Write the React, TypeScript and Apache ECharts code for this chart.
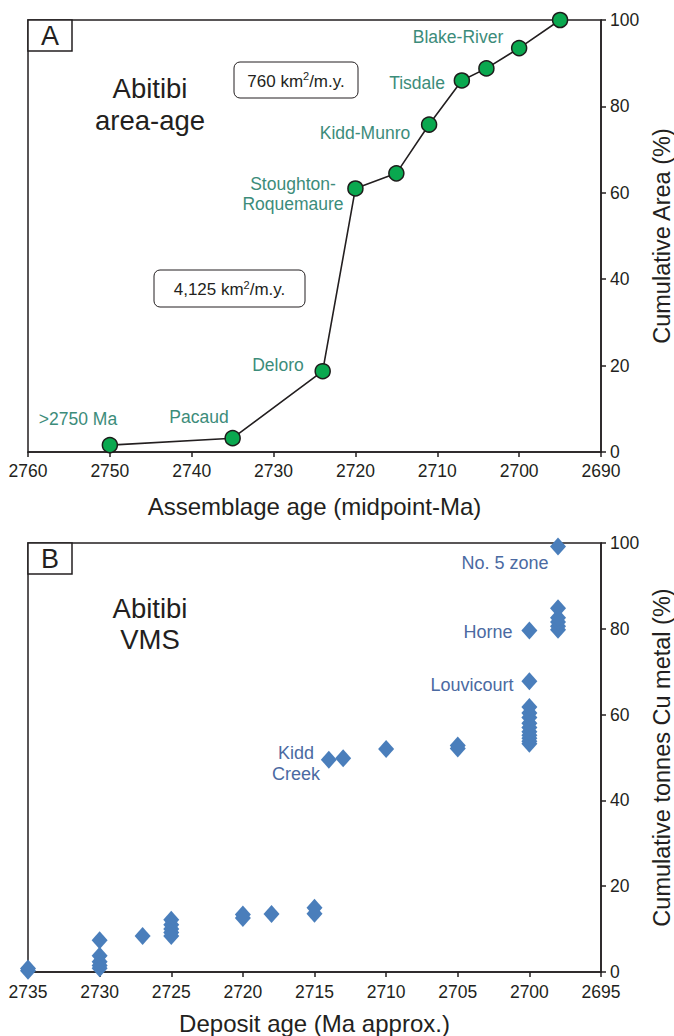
import React, { useEffect, useRef } from "react";
import * as echarts from "echarts";

// Panel A: assemblage midpoint ages and cumulative area
const agesA = [2750, 2735, 2724, 2720, 2715, 2711, 2707, 2704, 2700, 2695];
const areaA = [1.6, 3.2, 18.7, 61, 64.5, 75.8, 86, 88.8, 93.5, 100];
const xTicksA = [2760, 2750, 2740, 2730, 2720, 2710, 2700, 2690];

// Panel B: deposit ages and cumulative Cu tonnes
const ageB = [
  2735, 2735,
  2730, 2730, 2730, 2730, 2730,
  2727,
  2725, 2725, 2725, 2725, 2725,
  2720, 2720,
  2718,
  2715, 2715,
  2714, 2713,
  2710,
  2705, 2705,
  2700, 2700, 2700, 2700, 2700, 2700, 2700, 2700, 2700, 2700,
  2700, 2700,
  2698, 2698, 2698, 2698, 2698, 2698,
];
const cuB = [
  0.3, 0.8,
  7.4, 3.8, 2.4, 1.5, 0.9,
  8.4,
  12.2, 11, 10, 9.2, 8.4,
  13.4, 12.6,
  13.5,
  15, 13.6,
  49.5, 49.8,
  52,
  52.8, 52.1,
  53.2, 53.8, 54.5, 55.2, 56, 57, 58, 59.3, 60.4, 61.8,
  67.8, 79.6,
  79.8, 80.6, 81.6, 82.6, 84.8, 99.2,
];
const xTicksB = [2735, 2730, 2725, 2720, 2715, 2710, 2705, 2700, 2695];

const FONT = "'Liberation Sans', Arial, Helvetica, sans-serif";
const INK = "#231f20";
const GREEN_TXT = "#3c8c7a";
const BLUE_TXT = "#4b6aa2";

export default function App() {
  const ref = useRef<HTMLDivElement>(null);
  useEffect(() => {
    if (!ref.current) return;
    const chart = echarts.init(ref.current, undefined, { renderer: "svg" });
    const axisCommon = {
      axisLine: { show: true, onZero: false, lineStyle: { color: INK, width: 1.5 } },
      axisTick: { show: true, inside: false, length: 5, lineStyle: { color: INK, width: 1.5 } },
      splitLine: { show: false },
      axisLabel: { color: INK, fontSize: 17.5, fontFamily: FONT, formatter: (v: number) => String(v) },
      nameTextStyle: { color: INK, fontSize: 24, fontFamily: FONT },
    };
    const txt = (x: number, y: number, text: string, color: string, size = 17.5, align = "center") => ({
      type: "text",
      x,
      y,
      style: { text, fill: color, fontSize: size, fontFamily: FONT, align, verticalAlign: "middle", lineHeight: size + 3 },
      z: 100,
    });
    const rateBox = (x: number, y: number, w: number, h: number, num: string) => ({
      type: "group",
      x,
      y,
      z: 100,
      children: [
        { type: "rect", shape: { x: 0, y: 0, width: w, height: h, r: 6 }, style: { fill: "#fff", stroke: INK, lineWidth: 1 } },
        {
          type: "text",
          x: w / 2,
          y: h / 2 + 1,
          style: {
            text: `{a|${num} km}{s|2}{a|/m.y.}`,
            fontSize: 17,
            fontFamily: FONT,
            fill: INK,
            align: "center",
            verticalAlign: "middle",
            rich: {
              a: { fontSize: 17, fontFamily: FONT, fill: INK },
              s: { fontSize: 11, fontFamily: FONT, fill: INK, padding: [0, 0, 10, 0] },
            },
          },
        },
      ],
    });
    const letterBox = (x: number, y: number, letter: string) => ({
      type: "group",
      x,
      y,
      z: 100,
      children: [
        { type: "rect", shape: { x: 0, y: 0, width: 44, height: 31 }, style: { fill: "#fff", stroke: INK, lineWidth: 1.5 } },
        { type: "text", x: 22, y: 16, style: { text: letter, fontSize: 27, fontFamily: FONT, fill: INK, align: "center", verticalAlign: "middle" } },
      ],
    });

    chart.setOption({
      animation: false,
      grid: [
        { left: 28, top: 20, width: 573, height: 432, outerBoundsMode: "none", containLabel: false, show: true, borderColor: INK, borderWidth: 1.5, backgroundColor: "transparent" },
        { left: 28, top: 543, width: 573, height: 429, outerBoundsMode: "none", containLabel: false, show: true, borderColor: INK, borderWidth: 1.5, backgroundColor: "transparent" },
      ],
      xAxis: [
        {
          ...axisCommon,
          gridIndex: 0,
          type: "value",
          min: xTicksA[xTicksA.length - 1],
          max: xTicksA[0],
          interval: 10,
          inverse: true,
          name: "Assemblage age (midpoint-Ma)",
          nameLocation: "middle",
          nameGap: 42,
          axisLabel: { ...axisCommon.axisLabel, margin: 10 },
        },
        {
          ...axisCommon,
          gridIndex: 1,
          type: "value",
          min: xTicksB[xTicksB.length - 1],
          max: xTicksB[0],
          interval: 5,
          inverse: true,
          name: "Deposit age (Ma approx.)",
          nameLocation: "middle",
          nameGap: 39,
          axisLabel: { ...axisCommon.axisLabel, margin: 11 },
        },
      ],
      yAxis: [
        {
          ...axisCommon,
          gridIndex: 0,
          type: "value",
          position: "right",
          min: 0,
          max: 100,
          interval: 20,
          name: "Cumulative Area (%)",
          nameLocation: "middle",
          nameRotate: 90,
          nameGap: 40,
          nameTextStyle: { ...axisCommon.nameTextStyle, fontSize: 23.5 },
          axisLabel: { ...axisCommon.axisLabel, margin: 9 },
        },
        {
          ...axisCommon,
          gridIndex: 1,
          type: "value",
          position: "right",
          min: 0,
          max: 100,
          interval: 20,
          name: "Cumulative tonnes Cu metal (%)",
          nameLocation: "middle",
          nameRotate: 90,
          nameGap: 40,
          nameTextStyle: { ...axisCommon.nameTextStyle, fontSize: 23.5 },
          axisLabel: { ...axisCommon.axisLabel, margin: 9 },
        },
      ],
      series: [
        {
          type: "line",
          xAxisIndex: 0,
          yAxisIndex: 0,
          data: agesA.map((a, i) => [a, areaA[i]]),
          symbol: "circle",
          symbolSize: 15,
          lineStyle: { color: INK, width: 1.6 },
          itemStyle: { color: "#0aa84f", borderColor: "#1d1d1b", borderWidth: 1.5 },
          z: 5,
        },
        {
          type: "scatter",
          xAxisIndex: 1,
          yAxisIndex: 1,
          data: ageB.map((a, i) => [a, cuB[i]]),
          symbol: "diamond",
          symbolSize: [16, 18],
          itemStyle: { color: "#4a7ebb", opacity: 1 },
          z: 5,
        },
      ],
      graphic: [
        letterBox(28, 20, "A"),
        letterBox(28, 543, "B"),
        txt(150, 88, "Abitibi", INK, 27.5),
        txt(150, 120, "area-age", INK, 27.5),
        txt(150, 608, "Abitibi", INK, 27.5),
        txt(150, 639, "VMS", INK, 27.5),
        rateBox(234, 62, 124, 36, "760"),
        rateBox(154, 270, 151, 37, "4,125"),
        txt(78, 419, ">2750 Ma", GREEN_TXT),
        txt(199, 417, "Pacaud", GREEN_TXT),
        txt(278, 365, "Deloro", GREEN_TXT),
        txt(293, 194, "Stoughton-\nRoquemaure", GREEN_TXT),
        txt(365, 133, "Kidd-Munro", GREEN_TXT),
        txt(417, 83, "Tisdale", GREEN_TXT),
        txt(458, 37, "Blake-River", GREEN_TXT),
        txt(505, 563, "No. 5 zone", BLUE_TXT, 18),
        txt(488, 632, "Horne", BLUE_TXT, 18),
        txt(472, 685, "Louvicourt", BLUE_TXT, 18),
        txt(296, 763, "Kidd\nCreek", BLUE_TXT, 18),
      ],
    });
    return () => chart.dispose();
  }, []);
  return <div ref={ref} style={{ position: "fixed", left: 0, top: 0, width: 674, height: 1036, background: "#fff" }} />;
}
